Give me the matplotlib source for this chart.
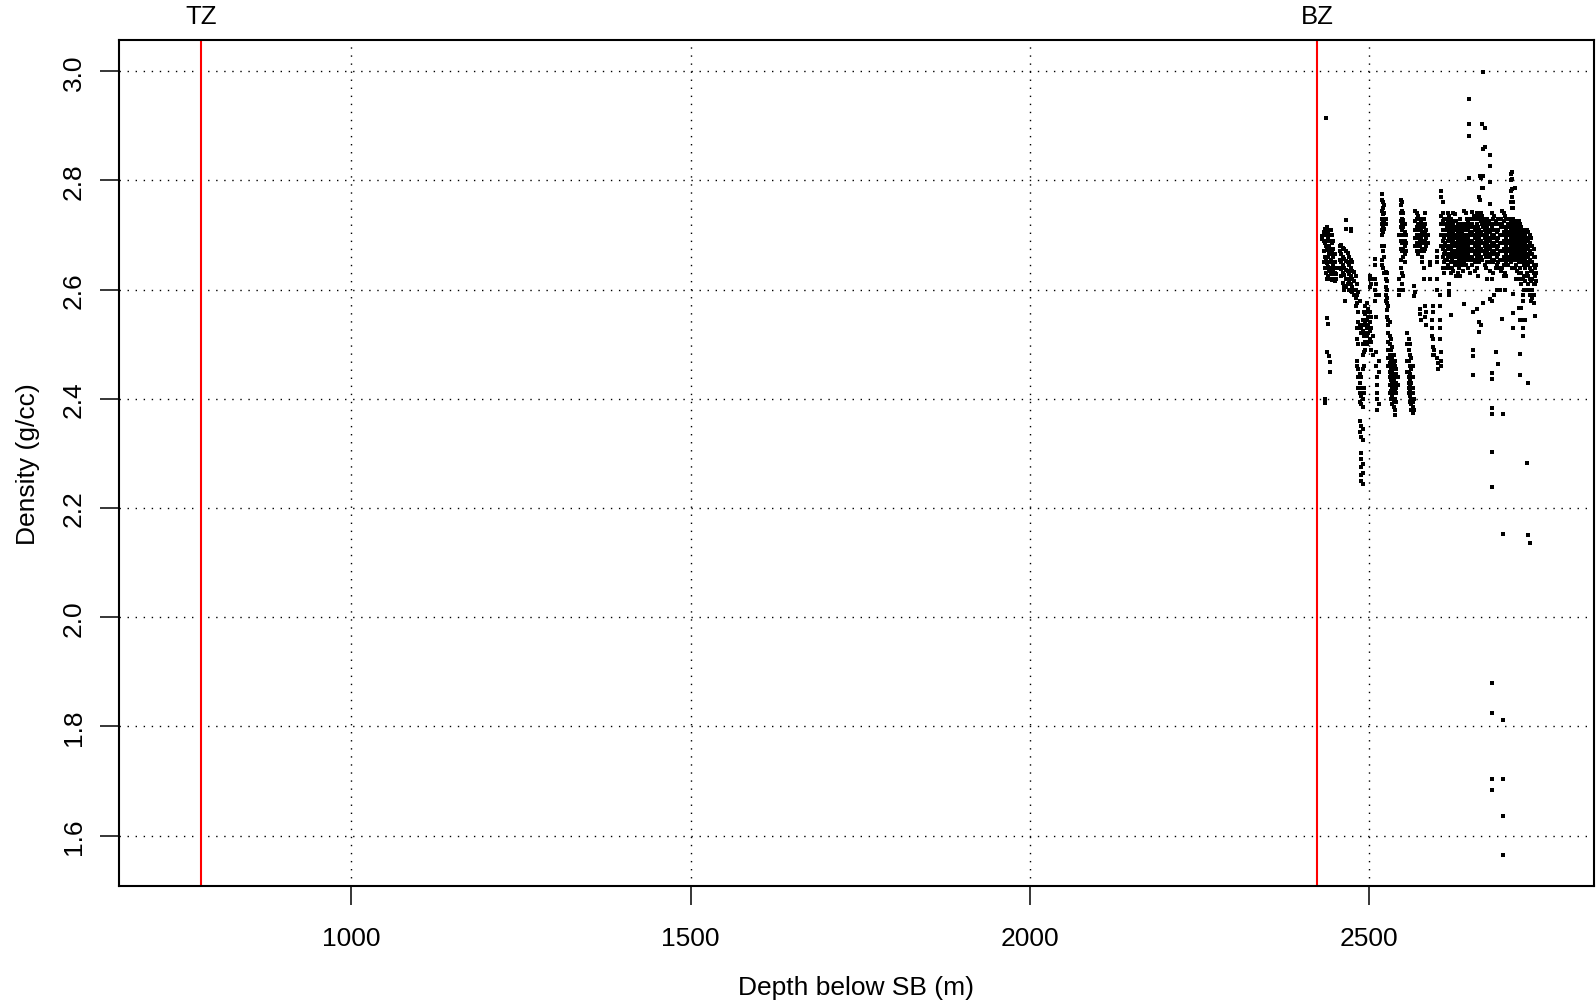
import numpy as np
import matplotlib
matplotlib.use("Agg")
import matplotlib.pyplot as plt
import matplotlib.transforms as mtrans

plt.rcParams["font.family"] = ["Liberation Sans", "DejaVu Sans"]
plt.rcParams["lines.scale_dashes"] = False

# zone tops (m below sea bed)
ZONES = ["TZ", "BZ"]
ZONE_DEPTH = [779, 2423]

# density log: depth -> densities in that column
COL_DEPTH = [
    2430, 2433, 2435, 2436, 2437, 2439, 2441, 2442, 2443, 2445, 2447, 2449, 2451,
    2457, 2459, 2461, 2463, 2464, 2466, 2468, 2470, 2473, 2475, 2477,
    2480, 2482, 2484, 2486, 2488, 2490, 2492, 2494, 2496, 2498, 2501, 2503, 2505,
    2508, 2510, 2512, 2514,
    2518, 2520, 2522, 2524, 2526, 2528, 2530, 2532, 2534, 2536, 2538, 2540, 2542,
    2544, 2546, 2548, 2550, 2552, 2554, 2556, 2558, 2560, 2562, 2564, 2566,
    2568, 2570, 2572, 2574, 2576, 2578, 2580, 2582, 2584, 2586, 2590, 2592, 2594,
    2596, 2599, 2601,
    2604, 2606, 2608, 2610, 2612, 2614, 2616, 2618, 2620, 2622, 2624, 2626, 2628,
    2630, 2632, 2634, 2636, 2638, 2640, 2642, 2644, 2646, 2647.4, 2648, 2650, 2652,
    2653, 2654, 2656, 2658, 2660, 2662, 2663, 2664, 2666, 2668, 2670, 2672, 2674,
    2676, 2678, 2680, 2682, 2684, 2686, 2688, 2690, 2692,
    2694, 2696, 2697.5, 2698, 2700, 2702, 2704, 2706, 2708, 2710, 2712, 2714, 2715,
    2716, 2718, 2720, 2722, 2724, 2726, 2728, 2730, 2732, 2734, 2736, 2738, 2740,
    2742, 2744, 2746,
]
COL_DENSITY = [
    [2.699, 2.692],
    [2.705, 2.69, 2.67, 2.65],
    [2.712, 2.70, 2.685, 2.66, 2.64, 2.40, 2.392],
    [2.914, 2.706, 2.68, 2.655, 2.63],
    [2.715, 2.69, 2.672, 2.648, 2.62, 2.549, 2.485],
    [2.708, 2.695, 2.677, 2.66, 2.642, 2.625, 2.537],
    [2.70, 2.68, 2.665, 2.65, 2.635, 2.62, 2.479],
    [2.45, 2.468, 2.62],
    [2.71, 2.69, 2.672, 2.655, 2.64, 2.63],
    [2.70, 2.685, 2.667, 2.65, 2.638, 2.628, 2.618],
    [2.69, 2.675, 2.66, 2.645, 2.632, 2.62],
    [2.665, 2.65, 2.64, 2.63, 2.615],
    [2.64, 2.628, 2.62],
    [2.68, 2.67, 2.655, 2.64],
    [2.682, 2.665, 2.65, 2.637, 2.625],
    [2.677, 2.66, 2.645, 2.63, 2.612],
    [2.675, 2.657, 2.64, 2.627, 2.607, 2.60],
    [2.58],
    [2.728, 2.711, 2.67, 2.652, 2.636, 2.62, 2.605],
    [2.668, 2.65, 2.635, 2.62, 2.61],
    [2.66, 2.645, 2.628, 2.615, 2.60],
    [2.712, 2.708, 2.655, 2.64, 2.625, 2.61, 2.598],
    [2.65, 2.635, 2.62, 2.605, 2.595],
    [2.632, 2.615, 2.60, 2.59],
    [2.625, 2.60, 2.585, 2.57],
    [2.61, 2.59, 2.575, 2.53, 2.51, 2.47, 2.46],
    [2.595, 2.56, 2.54, 2.50, 2.455, 2.44, 2.42],
    [2.58, 2.535, 2.445, 2.43, 2.41, 2.395, 2.36, 2.34],
    [2.53, 2.52, 2.44, 2.42, 2.405, 2.39, 2.35, 2.33, 2.30, 2.29, 2.275, 2.26, 2.25],
    [2.545, 2.525, 2.50, 2.48, 2.455, 2.42, 2.40, 2.385, 2.345, 2.325, 2.28, 2.265, 2.245],
    [2.56, 2.535, 2.515, 2.50, 2.485, 2.46, 2.42, 2.41],
    [2.57, 2.555, 2.54, 2.52, 2.505, 2.49],
    [2.575, 2.56, 2.545, 2.53, 2.515, 2.50],
    [2.565, 2.55, 2.535, 2.52, 2.505],
    [2.625, 2.62, 2.605, 2.56, 2.54, 2.525, 2.51],
    [2.61, 2.55, 2.53, 2.505, 2.49],
    [2.62, 2.515, 2.48],
    [2.656, 2.645, 2.62, 2.60, 2.58],
    [2.61, 2.59, 2.55, 2.485, 2.46],
    [2.44, 2.425, 2.41, 2.40, 2.38],
    [2.59, 2.47, 2.45, 2.39],
    [2.775, 2.765, 2.745, 2.73, 2.72, 2.71, 2.70, 2.68, 2.655, 2.645],
    [2.76, 2.75, 2.738, 2.725, 2.715, 2.705, 2.67, 2.64],
    [2.755, 2.74, 2.728, 2.712, 2.68, 2.66, 2.63],
    [2.73, 2.72, 2.632, 2.62, 2.605, 2.59, 2.58],
    [2.63, 2.615, 2.60, 2.585, 2.575, 2.562, 2.55],
    [2.57, 2.545, 2.535, 2.52, 2.505, 2.49, 2.475, 2.46],
    [2.54, 2.515, 2.50, 2.48, 2.465, 2.45, 2.44, 2.425, 2.41],
    [2.51, 2.49, 2.47, 2.455, 2.445, 2.435, 2.425, 2.415, 2.40],
    [2.495, 2.475, 2.46, 2.45, 2.44, 2.43, 2.42, 2.405, 2.39],
    [2.48, 2.465, 2.455, 2.445, 2.435, 2.42, 2.41, 2.395, 2.385],
    [2.47, 2.46, 2.44, 2.425, 2.415, 2.40, 2.38, 2.37],
    [2.455, 2.445, 2.43, 2.42, 2.41, 2.395],
    [2.44, 2.425],
    [2.70, 2.62, 2.60, 2.59],
    [2.765, 2.755, 2.74, 2.725, 2.715, 2.70, 2.69, 2.675, 2.655, 2.64],
    [2.76, 2.745, 2.73, 2.72, 2.71, 2.70, 2.685, 2.67, 2.63, 2.61],
    [2.74, 2.728, 2.715, 2.70, 2.69, 2.675, 2.66, 2.625, 2.60],
    [2.72, 2.705, 2.69, 2.68, 2.665, 2.65],
    [2.70, 2.685, 2.67],
    [2.52, 2.50, 2.47, 2.45],
    [2.51, 2.49, 2.47, 2.45, 2.44, 2.43, 2.42, 2.41],
    [2.50, 2.48, 2.46, 2.445, 2.435, 2.425, 2.415, 2.405, 2.395],
    [2.475, 2.455, 2.44, 2.43, 2.42, 2.41, 2.40, 2.39, 2.38],
    [2.46, 2.44, 2.42, 2.41, 2.395, 2.385, 2.375],
    [2.607, 2.589, 2.40, 2.38],
    [2.745, 2.725, 2.71, 2.695, 2.68, 2.595],
    [2.74, 2.73, 2.715, 2.70, 2.685, 2.67],
    [2.735, 2.72, 2.71, 2.695, 2.68, 2.665],
    [2.73, 2.715, 2.70, 2.69, 2.68, 2.565, 2.555],
    [2.725, 2.71, 2.695, 2.685, 2.67, 2.545],
    [2.72, 2.705, 2.69, 2.675, 2.66, 2.65],
    [2.73, 2.715, 2.70, 2.685, 2.67, 2.64, 2.62],
    [2.74, 2.72, 2.705, 2.69, 2.675, 2.57, 2.55],
    [2.71, 2.695, 2.68, 2.56, 2.535],
    [2.70, 2.685],
    [2.65, 2.645, 2.62],
    [2.545, 2.53, 2.515],
    [2.57, 2.56, 2.51, 2.495, 2.48],
    [2.49, 2.48],
    [2.67, 2.66, 2.65, 2.62, 2.60, 2.475],
    [2.465, 2.455],
    [2.59, 2.57, 2.545, 2.53, 2.51],
    [2.78, 2.77, 2.735, 2.72, 2.70, 2.68, 2.485, 2.47, 2.46],
    [2.76, 2.74, 2.725, 2.71, 2.69, 2.675, 2.66, 2.64],
    [2.73, 2.71, 2.695, 2.68, 2.665, 2.65, 2.63],
    [2.72, 2.70, 2.685, 2.67, 2.655],
    [2.73, 2.715, 2.70, 2.68, 2.665, 2.655, 2.64],
    [2.74, 2.725, 2.71, 2.70, 2.69, 2.675, 2.66, 2.645],
    [2.735, 2.72, 2.705, 2.695, 2.68, 2.665, 2.64, 2.61, 2.598, 2.59],
    [2.73, 2.715, 2.70, 2.69, 2.675, 2.66, 2.65, 2.63, 2.553],
    [2.725, 2.71, 2.695, 2.685, 2.67, 2.655, 2.64],
    [2.74, 2.72, 2.705, 2.69, 2.68, 2.665, 2.65, 2.635],
    [2.738, 2.715, 2.70, 2.685, 2.67, 2.66, 2.645],
    [2.725, 2.71, 2.695, 2.68, 2.665, 2.65, 2.625],
    [2.72, 2.705, 2.69, 2.675, 2.66, 2.645, 2.63],
    [2.715, 2.70, 2.685, 2.67, 2.655, 2.64],
    [2.73, 2.71, 2.695, 2.68, 2.665, 2.65, 2.625],
    [2.72, 2.705, 2.69, 2.675, 2.66, 2.645],
    [2.715, 2.70, 2.685, 2.67, 2.655, 2.635],
    [2.745, 2.71, 2.695, 2.68, 2.665, 2.65, 2.574],
    [2.74, 2.72, 2.70, 2.69, 2.675, 2.66, 2.645],
    [2.73, 2.715, 2.70, 2.685, 2.67, 2.655],
    [2.725, 2.71, 2.695, 2.68, 2.665, 2.64],
    [2.95, 2.903, 2.881, 2.804],
    [2.72, 2.705, 2.69, 2.675, 2.66, 2.63],
    [2.73, 2.715, 2.70, 2.685, 2.67, 2.655],
    [2.742, 2.72, 2.705, 2.69, 2.675, 2.66, 2.645],
    [2.56, 2.49, 2.479, 2.443],
    [2.735, 2.715, 2.70, 2.685, 2.67, 2.655],
    [2.73, 2.71, 2.695, 2.68, 2.665, 2.65, 2.635],
    [2.74, 2.72, 2.705, 2.69, 2.675, 2.66, 2.64, 2.565],
    [2.735, 2.715, 2.70, 2.685, 2.67, 2.655, 2.625],
    [2.77, 2.73, 2.71, 2.695, 2.68, 2.665, 2.65, 2.54, 2.522],
    [2.808, 2.765],
    [2.804, 2.74, 2.725, 2.705, 2.69, 2.675, 2.66, 2.536],
    [2.903, 2.787, 2.735, 2.72, 2.70, 2.685, 2.67, 2.655],
    [2.999, 2.858, 2.808, 2.787, 2.73, 2.715, 2.70, 2.685, 2.67, 2.575],
    [2.896, 2.862, 2.725, 2.71, 2.695, 2.68, 2.665, 2.645],
    [2.72, 2.705, 2.69, 2.675, 2.66, 2.64],
    [2.73, 2.715, 2.70, 2.685, 2.67, 2.65, 2.62],
    [2.725, 2.71, 2.695, 2.68, 2.665, 2.65],
    [2.846, 2.826, 2.797, 2.757, 2.72, 2.705, 2.69, 2.675, 2.66, 2.635, 2.583],
    [2.74, 2.715, 2.70, 2.685, 2.67, 2.655, 2.62, 2.58, 2.448, 2.437, 2.384, 2.373,
     2.302, 2.238, 1.879, 1.824, 1.703, 1.683],
    [2.73, 2.71, 2.695, 2.68, 2.665, 2.65, 2.63],
    [2.735, 2.72, 2.70, 2.685, 2.67, 2.655, 2.59],
    [2.725, 2.71, 2.695, 2.68, 2.665, 2.64, 2.485],
    [2.72, 2.705, 2.69, 2.675, 2.66, 2.645, 2.60],
    [2.73, 2.71, 2.695, 2.68, 2.665, 2.65, 2.464],
    [2.72, 2.70, 2.685, 2.67, 2.655, 2.64, 2.60],
    [2.73, 2.715, 2.70, 2.685, 2.67, 2.655, 2.635],
    [2.745, 2.72, 2.70, 2.685, 2.67, 2.655, 2.64, 2.546],
    [2.372, 2.152, 1.811, 1.703, 1.636, 1.564],
    [2.74, 2.725, 2.705, 2.69, 2.675, 2.66, 2.645, 2.625],
    [2.735, 2.715, 2.70, 2.685, 2.67, 2.655, 2.63, 2.60],
    [2.73, 2.71, 2.695, 2.68, 2.665, 2.65, 2.625],
    [2.72, 2.705, 2.69, 2.675, 2.66, 2.645],
    [2.73, 2.715, 2.70, 2.685, 2.67, 2.655],
    [2.811, 2.80, 2.78, 2.76, 2.725, 2.71, 2.695, 2.68, 2.665, 2.65],
    [2.815, 2.803, 2.785, 2.77, 2.75, 2.72, 2.705, 2.69, 2.675, 2.66, 2.64],
    [2.76, 2.75, 2.73, 2.715, 2.70, 2.685, 2.67, 2.655, 2.592, 2.558, 2.53],
    [2.725, 2.71, 2.695, 2.68, 2.665, 2.64],
    [2.786],
    [2.72, 2.705, 2.69, 2.675, 2.66, 2.645, 2.62],
    [2.715, 2.70, 2.685, 2.67, 2.655, 2.635],
    [2.725, 2.71, 2.695, 2.68, 2.665, 2.65, 2.63, 2.567],
    [2.72, 2.705, 2.69, 2.675, 2.66, 2.64, 2.62, 2.545, 2.482, 2.444],
    [2.715, 2.70, 2.685, 2.67, 2.655, 2.63, 2.61, 2.567],
    [2.71, 2.695, 2.68, 2.665, 2.65, 2.62, 2.59, 2.58, 2.545, 2.53, 2.516],
    [2.705, 2.69, 2.675, 2.66, 2.645, 2.625, 2.60],
    [2.70, 2.685, 2.67, 2.655, 2.64, 2.615, 2.545],
    [2.71, 2.695, 2.68, 2.665, 2.65, 2.63, 2.60, 2.283],
    [2.705, 2.69, 2.675, 2.66, 2.645, 2.625, 2.61, 2.429, 2.15],
    [2.70, 2.685, 2.67, 2.655, 2.64, 2.62, 2.60, 2.59, 2.136],
    [2.695, 2.68, 2.665, 2.65, 2.635, 2.615, 2.58],
    [2.68, 2.665, 2.65, 2.635, 2.62, 2.60, 2.585],
    [2.675, 2.66, 2.645, 2.63, 2.61, 2.59, 2.575],
    [2.66, 2.64, 2.625, 2.61, 2.552],
    [2.645, 2.63, 2.615],
]

X_TICKS = [1000, 1500, 2000, 2500]
Y_TICKS = [1.6, 1.8, 2.0, 2.2, 2.4, 2.6, 2.8, 3.0]

depth = np.concatenate([[d] * len(v) for d, v in zip(COL_DEPTH, COL_DENSITY)])
dens = np.concatenate([np.asarray(v, float) for v in COL_DENSITY])

fig = plt.figure(figsize=(15.96, 10.04), dpi=100)
ax = fig.add_axes([119 / 1596, 117.4 / 1004, 1475 / 1596, 845.6 / 1004])

# R-style pch="." : small solid squares
ax.plot(depth, dens, ls="none", marker="s", ms=2.3, mew=0, color="black",
        antialiased=False, zorder=3)

for x in X_TICKS:
    ax.axvline(x, color="black", lw=1.0, dashes=(1, 4.8), zorder=1)
for y in Y_TICKS:
    ax.axhline(y, color="black", lw=1.0, dashes=(1, 4.8), zorder=1)

trans = mtrans.blended_transform_factory(ax.transData, ax.transAxes)
for name, z in zip(ZONES, ZONE_DEPTH):
    ax.axvline(z, color="red", lw=1.5, zorder=2)
    ax.text(z, 1.0286, name, transform=trans, ha="center", va="center", fontsize=18.5)

ax.set_xlim(658, 2831)
ax.set_ylim(1.5086, 3.0573)
ax.set_xticks(X_TICKS)
ax.set_xticklabels([str(x) for x in X_TICKS])
ax.set_yticks(Y_TICKS)
ax.set_yticklabels([f"{y:.1f}" for y in Y_TICKS], rotation=90, va="center")
ax.tick_params(length=13.5, width=1.1, labelsize=19, direction="out")
ax.tick_params(axis="x", pad=15.5)
ax.tick_params(axis="y", pad=10.5)
for sp in ax.spines.values():
    sp.set_linewidth(1.5)

ax.set_xlabel("Depth below SB (m)", fontsize=19)
ax.set_ylabel("Density (g/cc)", fontsize=19)
ax.xaxis.set_label_coords(0.5, (886.6 - 988) / 845.6)
ax.xaxis.label.set_va("center")
ax.yaxis.set_label_coords((28.5 - 119) / 1475, 0.5)
ax.yaxis.label.set_va("center")

fig.savefig("out.png", dpi=100)
